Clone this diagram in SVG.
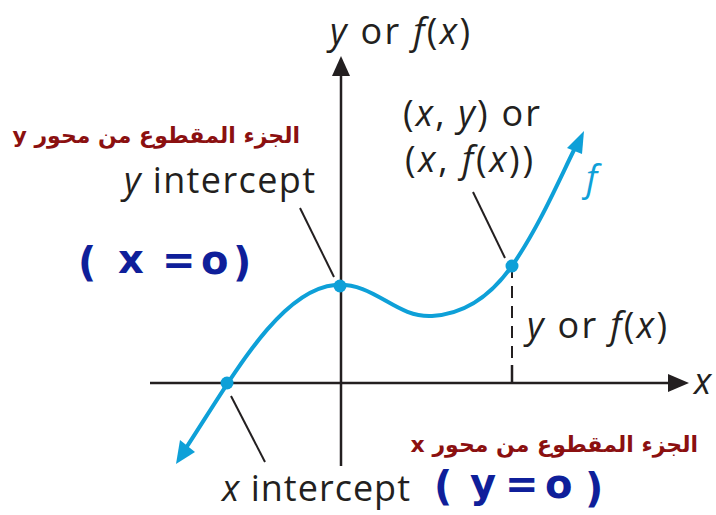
<svg xmlns="http://www.w3.org/2000/svg" width="716" height="515" viewBox="0 0 716 515">
<defs>
<style>
.lbl{font-family:"Open Sans","Noto Sans",sans-serif;font-size:36px;fill:#231f20}
.it{font-style:italic}
.ar{font-family:"DejaVu Sans",sans-serif;font-weight:bold;font-size:22px;fill:#8b1010}
.hw{font-family:"DejaVu Sans",sans-serif;font-weight:bold;font-size:40px;fill:#0f1f9a}
.axis{stroke:#231f20;stroke-width:2.5;fill:none}
.lead{stroke:#231f20;stroke-width:2;fill:none}
.curve{stroke:#0ea0d8;stroke-width:4;fill:none}
.dot{fill:#0ea0d8}
</style>
</defs>
<rect width="716" height="515" fill="#ffffff"/>
<g id="axes">
<line class="axis" x1="341" y1="72" x2="341" y2="466"/>
<polygon points="341,56 332,76 350,76" fill="#231f20"/>
<line class="axis" x1="150" y1="383" x2="672" y2="383"/>
<polygon points="689,383 668,374 668,392" fill="#231f20"/>
<line class="axis" x1="512" y1="365" x2="512" y2="383"/>
</g>
<g id="connectors">
<line class="lead" x1="300" y1="208" x2="334" y2="277"/>
<line class="lead" x1="231" y1="396" x2="265" y2="462"/>
<line class="lead" x1="473" y1="192" x2="505" y2="258"/>
<line x1="512" y1="266" x2="512" y2="365" stroke="#231f20" stroke-width="2" stroke-dasharray="12,8"/>
</g>
<g id="curve">
<path class="curve" d="M186,448 C233,376 280,290 335,285 C375,282 395,318 432,316 C470,314 495,290 512,266 C540,225 560,178 575,148"/>
<polygon class="dot" points="176,464 180,440 195,452"/>
<polygon class="dot" points="584,131 567,148 582,154"/>
<circle class="dot" cx="227" cy="383" r="6.5"/>
<circle class="dot" cx="340" cy="286" r="6.5"/>
<circle class="dot" cx="512" cy="266" r="6.5"/>
</g>
<g id="labels">
<text class="lbl" x="330" y="44" textLength="140"><tspan class="it">y</tspan> or <tspan class="it">f</tspan>(<tspan class="it">x</tspan>)</text>
<text class="lbl" x="124" y="193" textLength="191"><tspan class="it">y</tspan> intercept</text>
<text class="lbl" x="403" y="126" textLength="137">(<tspan class="it">x</tspan>, <tspan class="it">y</tspan>) or</text>
<text class="lbl" x="405" y="172" textLength="128">(<tspan class="it">x</tspan>, <tspan class="it">f</tspan>(<tspan class="it">x</tspan>))</text>
<text class="lbl it" x="586" y="191" style="fill:#0ea0d8">f</text>
<text class="lbl" x="527" y="338" textLength="140"><tspan class="it">y</tspan> or <tspan class="it">f</tspan>(<tspan class="it">x</tspan>)</text>
<text class="lbl it" x="694" y="394">x</text>
<text class="lbl" x="222" y="501" textLength="188"><tspan class="it">x</tspan> intercept</text>
</g>
<g id="arabic">
<text class="ar" x="300" y="143" direction="rtl" text-anchor="start">الجزء المقطوع من محور y</text>
<text class="ar" x="698" y="452" direction="rtl" text-anchor="start">الجزء المقطوع من محور x</text>
</g>
<g id="handwritten">
<text class="hw" x="78" y="276" font-size="44">(</text>
<text class="hw" x="118" y="273" font-size="50">x</text>
<text class="hw" x="162" y="274" font-size="30">=</text>
<text class="hw" x="201" y="274">o</text>
<text class="hw" x="233" y="276" font-size="44">)</text>
<text class="hw" x="434" y="500" font-size="36">(</text>
<text class="hw" x="470" y="497" font-size="44">y</text>
<text class="hw" x="505" y="498" font-size="30">=</text>
<text class="hw" x="545" y="498" font-size="44">o</text>
<text class="hw" x="585" y="502" font-size="40">)</text>
</g>
</svg>
